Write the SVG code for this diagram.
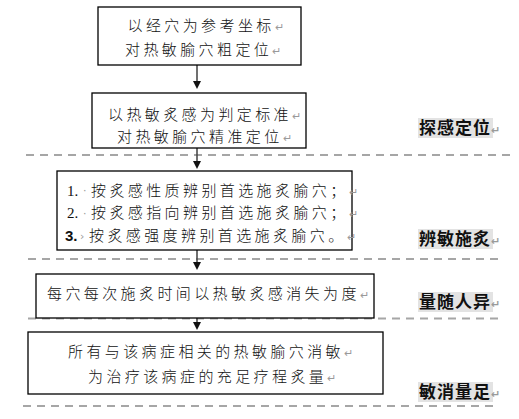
<svg xmlns="http://www.w3.org/2000/svg" width="519" height="419" viewBox="0 0 519 419">
<defs>
<style>
.box{fill:#fff;stroke:#000;stroke-width:1.3}
.t{font-family:"Noto Sans CJK SC","Noto Sans",sans-serif;font-size:15px;letter-spacing:3.4px;fill:#111;font-weight:300}
.pm{font-family:"DejaVu Sans",sans-serif;font-size:11px;fill:#9a9a9a;letter-spacing:0}
.lab{font-family:"Noto Sans CJK SC","Noto Sans",sans-serif;font-size:17px;letter-spacing:1px;font-weight:bold;fill:#111}
.lbg{fill:#e3e3e3}
.dash{stroke:#a6a6a6;stroke-width:2;stroke-dasharray:8 6;fill:none}
.conn{stroke:#404040;stroke-width:1.5;fill:none}
.head{fill:#111}
.num{font-family:"Liberation Serif",serif;font-size:15px;fill:#111}
.num3{font-family:"Liberation Sans",sans-serif;font-size:15px;font-weight:bold;fill:#111}
</style>
</defs>
<rect width="519" height="419" fill="#fff"/>

<g id="dividers">
<line class="dash" x1="26" y1="155" x2="510" y2="155"/>
<line class="dash" x1="28" y1="259" x2="500" y2="259"/>
<line class="dash" x1="28" y1="318.5" x2="500" y2="318.5"/>
<line class="dash" x1="23" y1="406" x2="493" y2="406"/>
</g>

<g id="connectors">
<line class="conn" x1="197" y1="65" x2="197" y2="84"/>
<polygon class="head" points="193,81 201,81 197,89"/>
<line class="conn" x1="197" y1="148" x2="197" y2="164"/>
<polygon class="head" points="193,161 201,161 197,169"/>
<line class="conn" x1="197" y1="250" x2="197" y2="265"/>
<polygon class="head" points="193,262 201,262 197,270"/>
<line class="conn" x1="197" y1="318" x2="197" y2="325"/>
<polygon class="head" points="193,322 201,322 197,330"/>
</g>

<g id="node1">
<rect class="box" x="98" y="7" width="203" height="58"/>
<text class="t" x="127.5" y="31">以经穴为参考坐标<tspan class="pm">↵</tspan></text>
<text class="t" x="125" y="55">对热敏腧穴粗定位<tspan class="pm">↵</tspan></text>
</g>

<g id="node2">
<rect class="box" x="92" y="93" width="214" height="55"/>
<text class="t" x="108" y="120">以热敏炙感为判定标准<tspan class="pm">↵</tspan></text>
<text class="t" x="117" y="142">对热敏腧穴精准定位<tspan class="pm">↵</tspan></text>
</g>

<g id="node3">
<rect class="box" x="57" y="171" width="295" height="79"/>
<text class="num" x="67" y="195.5">1.</text>
<text class="pm" x="83" y="194">·</text>
<text class="t" x="91" y="195.5">按炙感性质辨别首选施炙腧穴；<tspan class="pm">↵</tspan></text>
<text class="num" x="67" y="218">2.</text>
<text class="pm" x="83" y="216.5">·</text>
<text class="t" x="91" y="218">按炙感指向辨别首选施炙腧穴；<tspan class="pm">↵</tspan></text>
<text class="num3" x="65" y="241">3.</text>
<text class="pm" x="80" y="239.5">›</text>
<text class="t" x="89" y="241">按炙感强度辨别首选施炙腧穴。<tspan class="pm">↵</tspan></text>
</g>

<g id="node4">
<rect class="box" x="36" y="274" width="338" height="44"/>
<text class="t" x="47" y="298.5">每穴每次施炙时间以热敏炙感消失为度<tspan class="pm">↵</tspan></text>
</g>

<g id="node5">
<rect class="box" x="28" y="332" width="355" height="62"/>
<text class="t" x="68" y="357">所有与该病症相关的热敏腧穴消敏<tspan class="pm">↵</tspan></text>
<text class="t" x="88" y="381.5">为治疗该病症的充足疗程炙量<tspan class="pm">↵</tspan></text>
</g>

<g id="label1">
<rect class="lbg" x="418" y="118" width="75" height="20"/>
<text class="lab" x="419" y="134">探感定位<tspan class="pm">↵</tspan></text>
</g>
<g id="label2">
<rect class="lbg" x="418" y="229" width="75" height="20"/>
<text class="lab" x="419" y="245">辨敏施炙<tspan class="pm">↵</tspan></text>
</g>
<g id="label3">
<rect class="lbg" x="418" y="292" width="75" height="20"/>
<text class="lab" x="419" y="308">量随人异<tspan class="pm">↵</tspan></text>
</g>
<g id="label4">
<rect class="lbg" x="418" y="382" width="75" height="20"/>
<text class="lab" x="419" y="398">敏消量足<tspan class="pm">↵</tspan></text>
</g>
</svg>
